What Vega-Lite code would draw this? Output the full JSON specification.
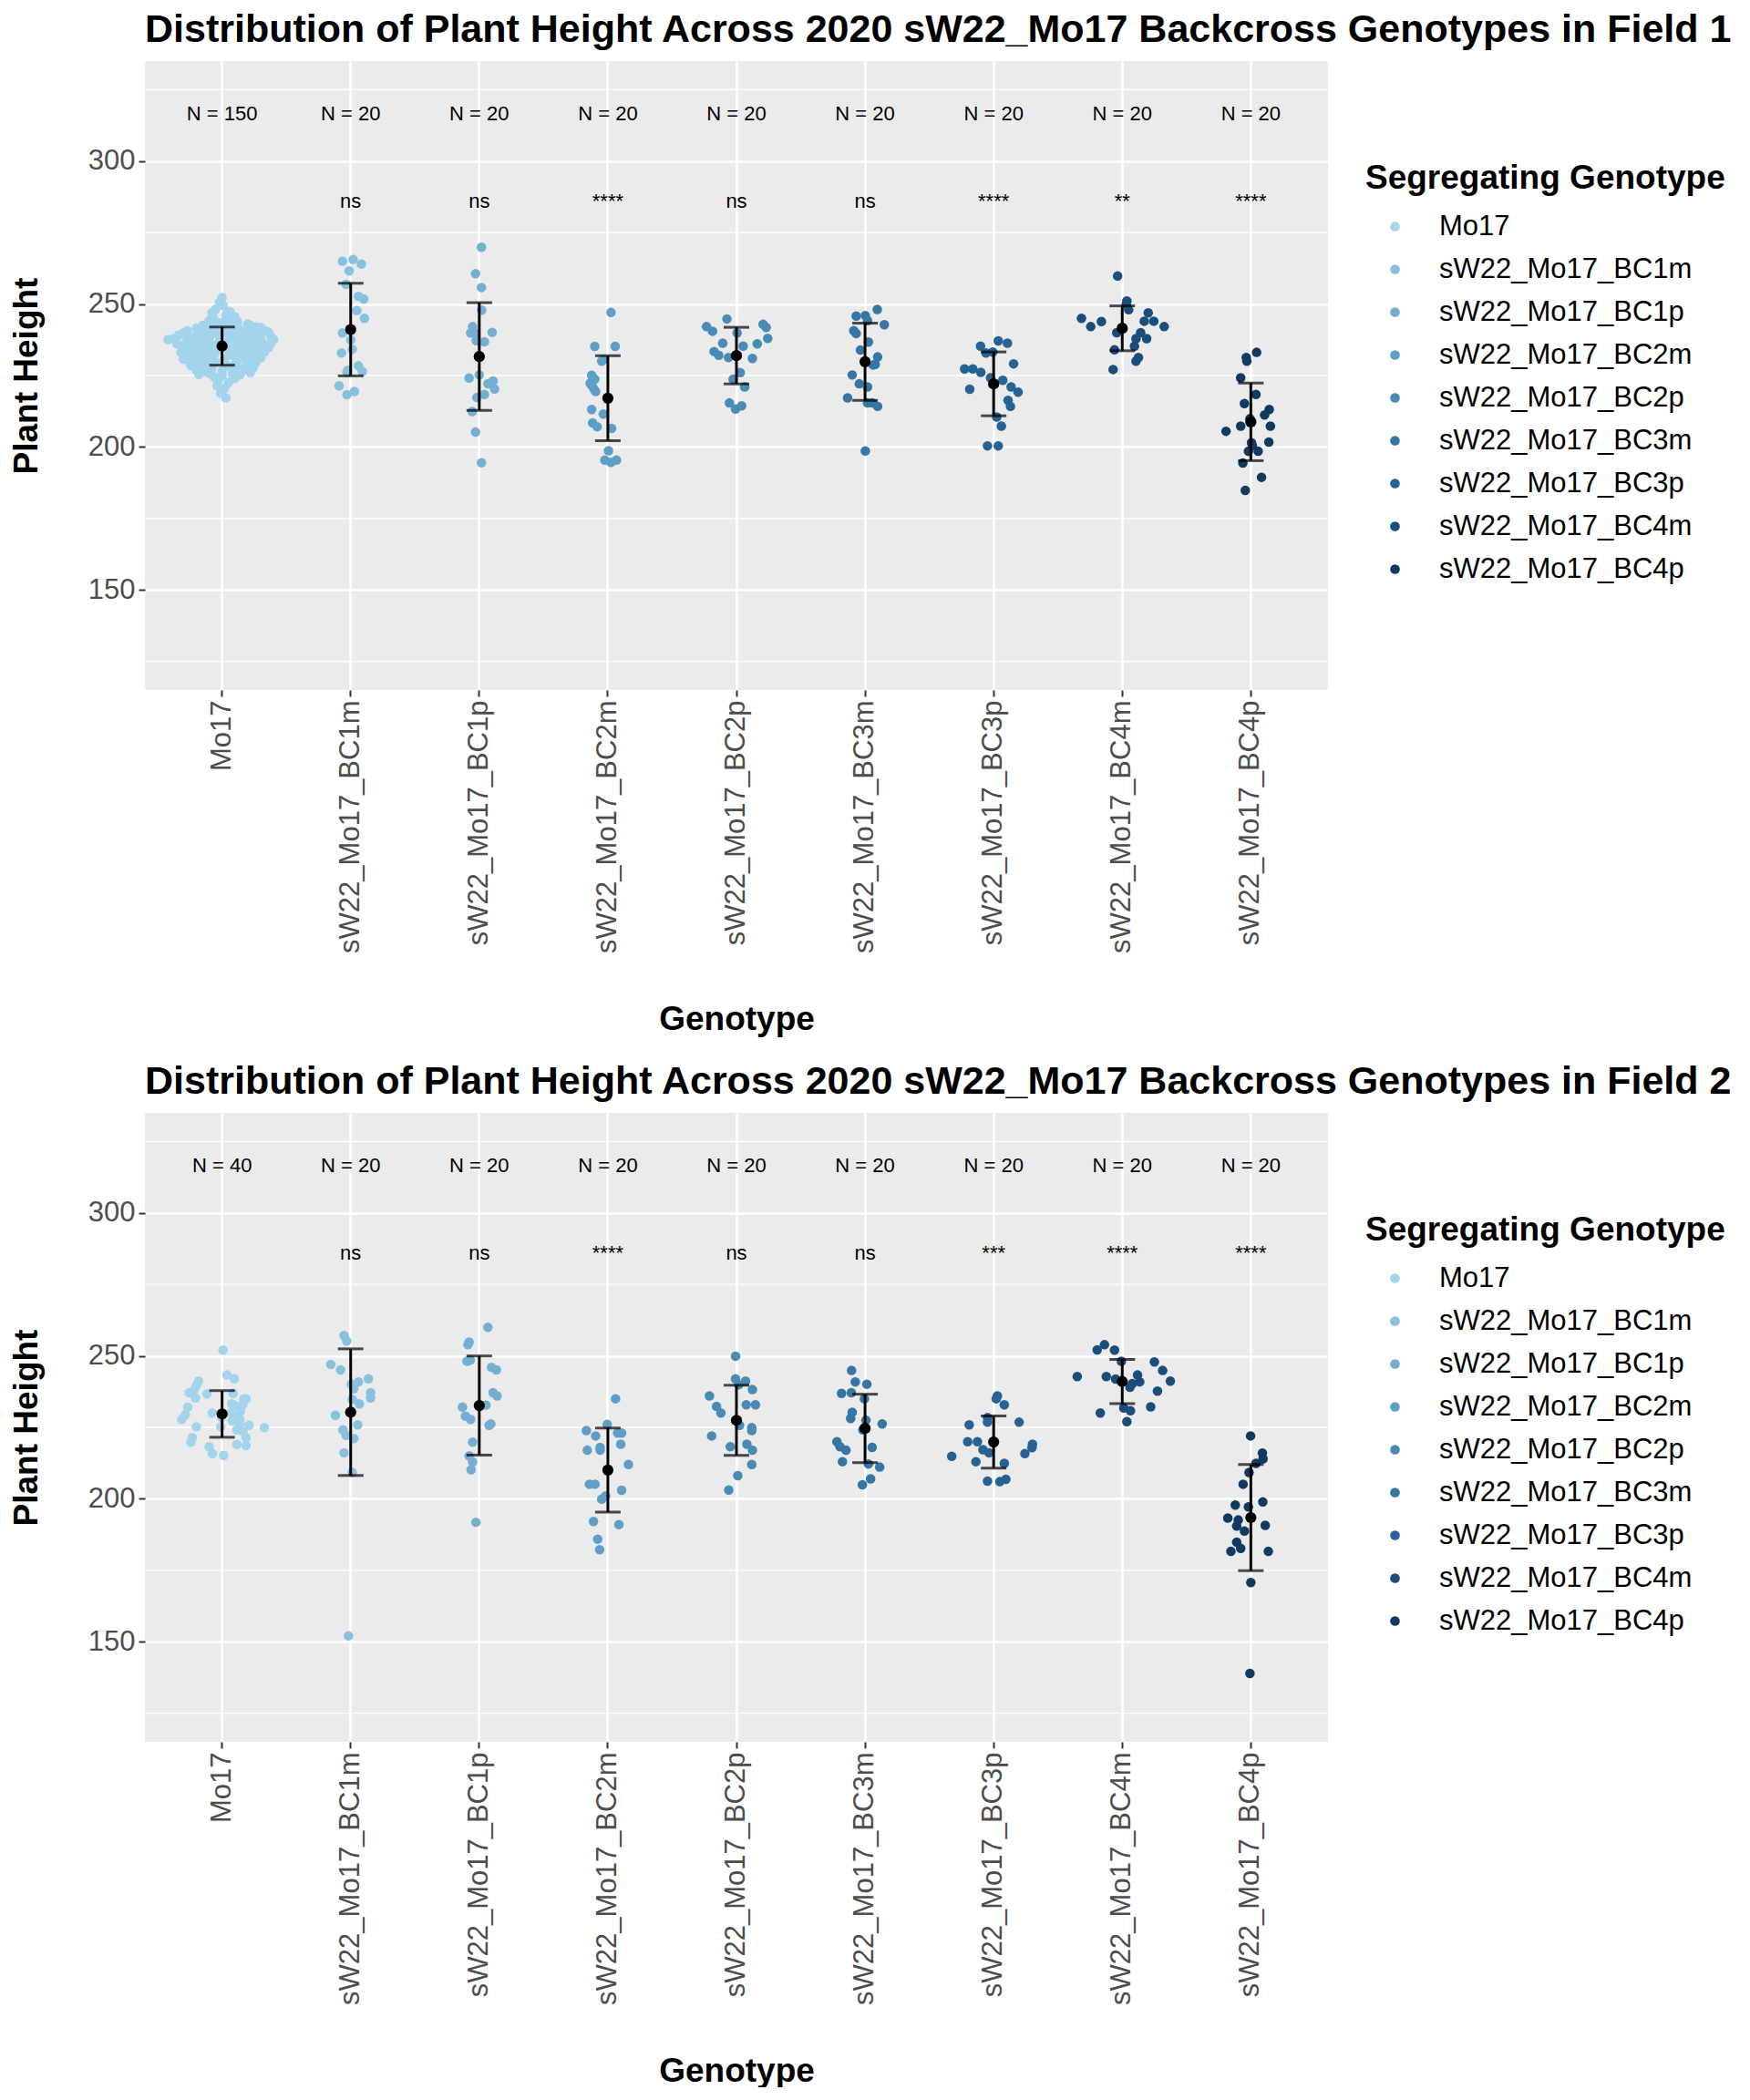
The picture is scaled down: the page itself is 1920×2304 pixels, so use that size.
{
  "$schema": "https://vega.github.io/schema/vega-lite/v6.json",
  "background": "white",
  "padding": {"left": 10, "top": 12, "right": 0, "bottom": 0},
  "config": {
    "font": "Liberation Sans",
    "view": {"fill": "#ebebeb", "stroke": null}
  },
  "spacing": 30,
  "datasets": {
    "field1": [
      {"genotype": "Mo17", "height": 252.3, "jitter": 0.0},
      {"genotype": "Mo17", "height": 250.7, "jitter": -0.02},
      {"genotype": "Mo17", "height": 249.4, "jitter": 0.01},
      {"genotype": "Mo17", "height": 248.2, "jitter": -0.05},
      {"genotype": "Mo17", "height": 247.3, "jitter": 0.06},
      {"genotype": "Mo17", "height": 247.0, "jitter": -0.08},
      {"genotype": "Mo17", "height": 246.2, "jitter": 0.03},
      {"genotype": "Mo17", "height": 245.5, "jitter": 0.1},
      {"genotype": "Mo17", "height": 245.5, "jitter": -0.07},
      {"genotype": "Mo17", "height": 244.9, "jitter": 0.03},
      {"genotype": "Mo17", "height": 244.2, "jitter": -0.1},
      {"genotype": "Mo17", "height": 243.8, "jitter": 0.12},
      {"genotype": "Mo17", "height": 243.4, "jitter": -0.09},
      {"genotype": "Mo17", "height": 243.0, "jitter": 0.2},
      {"genotype": "Mo17", "height": 242.8, "jitter": 0.21},
      {"genotype": "Mo17", "height": 242.5, "jitter": -0.15},
      {"genotype": "Mo17", "height": 242.3, "jitter": 0.02},
      {"genotype": "Mo17", "height": 242.0, "jitter": 0.26},
      {"genotype": "Mo17", "height": 241.8, "jitter": 0.3},
      {"genotype": "Mo17", "height": 241.5, "jitter": -0.2},
      {"genotype": "Mo17", "height": 241.2, "jitter": -0.18},
      {"genotype": "Mo17", "height": 241.0, "jitter": 0.1},
      {"genotype": "Mo17", "height": 240.8, "jitter": 0.33},
      {"genotype": "Mo17", "height": 240.7, "jitter": -0.27},
      {"genotype": "Mo17", "height": 240.5, "jitter": 0.15},
      {"genotype": "Mo17", "height": 240.3, "jitter": -0.05},
      {"genotype": "Mo17", "height": 240.2, "jitter": 0.36},
      {"genotype": "Mo17", "height": 240.0, "jitter": 0.22},
      {"genotype": "Mo17", "height": 239.8, "jitter": -0.3},
      {"genotype": "Mo17", "height": 239.5, "jitter": 0.05},
      {"genotype": "Mo17", "height": 239.3, "jitter": 0.28},
      {"genotype": "Mo17", "height": 239.1, "jitter": -0.34},
      {"genotype": "Mo17", "height": 239.0, "jitter": -0.12},
      {"genotype": "Mo17", "height": 238.8, "jitter": 0.18},
      {"genotype": "Mo17", "height": 238.6, "jitter": 0.38},
      {"genotype": "Mo17", "height": 238.4, "jitter": -0.22},
      {"genotype": "Mo17", "height": 238.2, "jitter": 0.08},
      {"genotype": "Mo17", "height": 238.0, "jitter": 0.3},
      {"genotype": "Mo17", "height": 237.9, "jitter": -0.38},
      {"genotype": "Mo17", "height": 237.6, "jitter": -0.42},
      {"genotype": "Mo17", "height": 237.5, "jitter": 0.4},
      {"genotype": "Mo17", "height": 237.3, "jitter": -0.15},
      {"genotype": "Mo17", "height": 237.0, "jitter": 0.12},
      {"genotype": "Mo17", "height": 236.9, "jitter": 0.24},
      {"genotype": "Mo17", "height": 236.7, "jitter": -0.28},
      {"genotype": "Mo17", "height": 236.5, "jitter": 0.0},
      {"genotype": "Mo17", "height": 236.3, "jitter": 0.38},
      {"genotype": "Mo17", "height": 236.1, "jitter": -0.35},
      {"genotype": "Mo17", "height": 236.0, "jitter": 0.33},
      {"genotype": "Mo17", "height": 235.8, "jitter": -0.08},
      {"genotype": "Mo17", "height": 235.6, "jitter": 0.2},
      {"genotype": "Mo17", "height": 235.4, "jitter": -0.2},
      {"genotype": "Mo17", "height": 235.2, "jitter": 0.28},
      {"genotype": "Mo17", "height": 235.0, "jitter": -0.3},
      {"genotype": "Mo17", "height": 234.9, "jitter": 0.1},
      {"genotype": "Mo17", "height": 234.7, "jitter": 0.36},
      {"genotype": "Mo17", "height": 234.5, "jitter": -0.12},
      {"genotype": "Mo17", "height": 234.3, "jitter": 0.25},
      {"genotype": "Mo17", "height": 234.1, "jitter": -0.25},
      {"genotype": "Mo17", "height": 234.0, "jitter": 0.05},
      {"genotype": "Mo17", "height": 233.8, "jitter": 0.32},
      {"genotype": "Mo17", "height": 233.6, "jitter": -0.18},
      {"genotype": "Mo17", "height": 233.4, "jitter": 0.15},
      {"genotype": "Mo17", "height": 233.3, "jitter": 0.33},
      {"genotype": "Mo17", "height": 233.1, "jitter": -0.32},
      {"genotype": "Mo17", "height": 233.0, "jitter": -0.05},
      {"genotype": "Mo17", "height": 232.8, "jitter": 0.22},
      {"genotype": "Mo17", "height": 232.6, "jitter": 0.3},
      {"genotype": "Mo17", "height": 232.4, "jitter": -0.22},
      {"genotype": "Mo17", "height": 232.2, "jitter": 0.08},
      {"genotype": "Mo17", "height": 232.0, "jitter": -0.28},
      {"genotype": "Mo17", "height": 231.8, "jitter": 0.28},
      {"genotype": "Mo17", "height": 231.6, "jitter": -0.1},
      {"genotype": "Mo17", "height": 231.4, "jitter": 0.18},
      {"genotype": "Mo17", "height": 231.2, "jitter": 0.3},
      {"genotype": "Mo17", "height": 231.0, "jitter": -0.2},
      {"genotype": "Mo17", "height": 230.9, "jitter": 0.02},
      {"genotype": "Mo17", "height": 230.7, "jitter": -0.3},
      {"genotype": "Mo17", "height": 230.5, "jitter": 0.25},
      {"genotype": "Mo17", "height": 230.3, "jitter": -0.15},
      {"genotype": "Mo17", "height": 230.2, "jitter": 0.12},
      {"genotype": "Mo17", "height": 230.0, "jitter": -0.26},
      {"genotype": "Mo17", "height": 229.8, "jitter": 0.2},
      {"genotype": "Mo17", "height": 229.6, "jitter": -0.05},
      {"genotype": "Mo17", "height": 229.4, "jitter": 0.26},
      {"genotype": "Mo17", "height": 229.2, "jitter": -0.2},
      {"genotype": "Mo17", "height": 229.0, "jitter": 0.1},
      {"genotype": "Mo17", "height": 228.8, "jitter": -0.12},
      {"genotype": "Mo17", "height": 228.6, "jitter": 0.22},
      {"genotype": "Mo17", "height": 228.4, "jitter": -0.24},
      {"genotype": "Mo17", "height": 228.2, "jitter": 0.05},
      {"genotype": "Mo17", "height": 228.0, "jitter": 0.18},
      {"genotype": "Mo17", "height": 227.8, "jitter": -0.16},
      {"genotype": "Mo17", "height": 227.6, "jitter": 0.24},
      {"genotype": "Mo17", "height": 227.4, "jitter": -0.08},
      {"genotype": "Mo17", "height": 227.2, "jitter": 0.12},
      {"genotype": "Mo17", "height": 227.0, "jitter": -0.2},
      {"genotype": "Mo17", "height": 226.8, "jitter": 0.2},
      {"genotype": "Mo17", "height": 226.6, "jitter": 0.0},
      {"genotype": "Mo17", "height": 226.4, "jitter": -0.14},
      {"genotype": "Mo17", "height": 226.2, "jitter": 0.15},
      {"genotype": "Mo17", "height": 226.0, "jitter": 0.22},
      {"genotype": "Mo17", "height": 225.8, "jitter": -0.1},
      {"genotype": "Mo17", "height": 225.6, "jitter": 0.08},
      {"genotype": "Mo17", "height": 225.4, "jitter": -0.18},
      {"genotype": "Mo17", "height": 225.2, "jitter": 0.14},
      {"genotype": "Mo17", "height": 225.0, "jitter": 0.0},
      {"genotype": "Mo17", "height": 224.5, "jitter": -0.06},
      {"genotype": "Mo17", "height": 224.0, "jitter": 0.1},
      {"genotype": "Mo17", "height": 223.2, "jitter": -0.03},
      {"genotype": "Mo17", "height": 222.5, "jitter": 0.05},
      {"genotype": "Mo17", "height": 221.5, "jitter": -0.04},
      {"genotype": "Mo17", "height": 220.5, "jitter": 0.02},
      {"genotype": "Mo17", "height": 218.8, "jitter": -0.01},
      {"genotype": "Mo17", "height": 217.2, "jitter": 0.03},
      {"genotype": "Mo17", "height": 244.0, "jitter": 0.05},
      {"genotype": "Mo17", "height": 243.5, "jitter": -0.03},
      {"genotype": "Mo17", "height": 243.0, "jitter": 0.08},
      {"genotype": "Mo17", "height": 242.6, "jitter": -0.06},
      {"genotype": "Mo17", "height": 242.0, "jitter": 0.12},
      {"genotype": "Mo17", "height": 241.6, "jitter": -0.1},
      {"genotype": "Mo17", "height": 241.2, "jitter": 0.04},
      {"genotype": "Mo17", "height": 240.8, "jitter": -0.14},
      {"genotype": "Mo17", "height": 240.4, "jitter": 0.16},
      {"genotype": "Mo17", "height": 240.0, "jitter": 0.0},
      {"genotype": "Mo17", "height": 239.6, "jitter": -0.08},
      {"genotype": "Mo17", "height": 239.2, "jitter": 0.1},
      {"genotype": "Mo17", "height": 238.8, "jitter": -0.18},
      {"genotype": "Mo17", "height": 238.4, "jitter": 0.14},
      {"genotype": "Mo17", "height": 238.0, "jitter": -0.02},
      {"genotype": "Mo17", "height": 237.6, "jitter": 0.06},
      {"genotype": "Mo17", "height": 237.2, "jitter": -0.1},
      {"genotype": "Mo17", "height": 236.8, "jitter": 0.18},
      {"genotype": "Mo17", "height": 236.4, "jitter": -0.16},
      {"genotype": "Mo17", "height": 236.0, "jitter": 0.1},
      {"genotype": "Mo17", "height": 235.6, "jitter": -0.04},
      {"genotype": "Mo17", "height": 235.2, "jitter": 0.16},
      {"genotype": "Mo17", "height": 234.8, "jitter": -0.18},
      {"genotype": "Mo17", "height": 234.4, "jitter": 0.04},
      {"genotype": "Mo17", "height": 234.0, "jitter": -0.1},
      {"genotype": "Mo17", "height": 233.6, "jitter": 0.2},
      {"genotype": "Mo17", "height": 233.2, "jitter": -0.14},
      {"genotype": "Mo17", "height": 232.8, "jitter": 0.1},
      {"genotype": "Mo17", "height": 232.4, "jitter": -0.06},
      {"genotype": "Mo17", "height": 232.0, "jitter": 0.16},
      {"genotype": "Mo17", "height": 237.0, "jitter": 0.26},
      {"genotype": "Mo17", "height": 238.6, "jitter": -0.26},
      {"genotype": "Mo17", "height": 239.8, "jitter": 0.24},
      {"genotype": "Mo17", "height": 241.4, "jitter": 0.22},
      {"genotype": "Mo17", "height": 236.2, "jitter": -0.24},
      {"genotype": "sW22_Mo17_BC1m", "height": 265.0, "jitter": -0.064},
      {"genotype": "sW22_Mo17_BC1m", "height": 265.6, "jitter": 0.019},
      {"genotype": "sW22_Mo17_BC1m", "height": 264.0, "jitter": 0.083},
      {"genotype": "sW22_Mo17_BC1m", "height": 261.6, "jitter": -0.012},
      {"genotype": "sW22_Mo17_BC1m", "height": 256.9, "jitter": -0.036},
      {"genotype": "sW22_Mo17_BC1m", "height": 252.7, "jitter": 0.06},
      {"genotype": "sW22_Mo17_BC1m", "height": 251.8, "jitter": 0.102},
      {"genotype": "sW22_Mo17_BC1m", "height": 247.7, "jitter": 0.048},
      {"genotype": "sW22_Mo17_BC1m", "height": 245.0, "jitter": 0.107},
      {"genotype": "sW22_Mo17_BC1m", "height": 239.9, "jitter": -0.064},
      {"genotype": "sW22_Mo17_BC1m", "height": 237.4, "jitter": 0.0},
      {"genotype": "sW22_Mo17_BC1m", "height": 234.2, "jitter": 0.012},
      {"genotype": "sW22_Mo17_BC1m", "height": 232.9, "jitter": -0.071},
      {"genotype": "sW22_Mo17_BC1m", "height": 228.4, "jitter": 0.06},
      {"genotype": "sW22_Mo17_BC1m", "height": 226.4, "jitter": 0.09},
      {"genotype": "sW22_Mo17_BC1m", "height": 226.2, "jitter": -0.029},
      {"genotype": "sW22_Mo17_BC1m", "height": 221.4, "jitter": -0.09},
      {"genotype": "sW22_Mo17_BC1m", "height": 218.3, "jitter": -0.029},
      {"genotype": "sW22_Mo17_BC1m", "height": 219.4, "jitter": 0.029},
      {"genotype": "sW22_Mo17_BC1m", "height": 226.8, "jitter": -0.024},
      {"genotype": "sW22_Mo17_BC1p", "height": 269.9, "jitter": 0.017},
      {"genotype": "sW22_Mo17_BC1p", "height": 260.6, "jitter": -0.029},
      {"genotype": "sW22_Mo17_BC1p", "height": 255.8, "jitter": 0.017},
      {"genotype": "sW22_Mo17_BC1p", "height": 247.9, "jitter": 0.019},
      {"genotype": "sW22_Mo17_BC1p", "height": 242.1, "jitter": -0.052},
      {"genotype": "sW22_Mo17_BC1p", "height": 239.9, "jitter": -0.067},
      {"genotype": "sW22_Mo17_BC1p", "height": 240.1, "jitter": 0.1},
      {"genotype": "sW22_Mo17_BC1p", "height": 237.2, "jitter": -0.024},
      {"genotype": "sW22_Mo17_BC1p", "height": 236.8, "jitter": 0.04},
      {"genotype": "sW22_Mo17_BC1p", "height": 224.1, "jitter": -0.079},
      {"genotype": "sW22_Mo17_BC1p", "height": 225.2, "jitter": 0.0},
      {"genotype": "sW22_Mo17_BC1p", "height": 223.1, "jitter": 0.107},
      {"genotype": "sW22_Mo17_BC1p", "height": 222.1, "jitter": 0.067},
      {"genotype": "sW22_Mo17_BC1p", "height": 220.3, "jitter": 0.119},
      {"genotype": "sW22_Mo17_BC1p", "height": 218.4, "jitter": 0.04},
      {"genotype": "sW22_Mo17_BC1p", "height": 217.3, "jitter": -0.019},
      {"genotype": "sW22_Mo17_BC1p", "height": 212.4, "jitter": -0.055},
      {"genotype": "sW22_Mo17_BC1p", "height": 205.2, "jitter": -0.029},
      {"genotype": "sW22_Mo17_BC1p", "height": 194.5, "jitter": 0.017},
      {"genotype": "sW22_Mo17_BC1p", "height": 240.0, "jitter": -0.036},
      {"genotype": "sW22_Mo17_BC2m", "height": 247.1, "jitter": 0.024},
      {"genotype": "sW22_Mo17_BC2m", "height": 235.2, "jitter": -0.102},
      {"genotype": "sW22_Mo17_BC2m", "height": 235.2, "jitter": 0.057},
      {"genotype": "sW22_Mo17_BC2m", "height": 230.0, "jitter": -0.048},
      {"genotype": "sW22_Mo17_BC2m", "height": 230.5, "jitter": -0.036},
      {"genotype": "sW22_Mo17_BC2m", "height": 225.1, "jitter": -0.126},
      {"genotype": "sW22_Mo17_BC2m", "height": 223.7, "jitter": -0.102},
      {"genotype": "sW22_Mo17_BC2m", "height": 222.3, "jitter": -0.138},
      {"genotype": "sW22_Mo17_BC2m", "height": 220.2, "jitter": -0.107},
      {"genotype": "sW22_Mo17_BC2m", "height": 213.1, "jitter": -0.126},
      {"genotype": "sW22_Mo17_BC2m", "height": 211.5, "jitter": -0.036},
      {"genotype": "sW22_Mo17_BC2m", "height": 208.4, "jitter": -0.119},
      {"genotype": "sW22_Mo17_BC2m", "height": 207.1, "jitter": -0.083},
      {"genotype": "sW22_Mo17_BC2m", "height": 206.5, "jitter": 0.029},
      {"genotype": "sW22_Mo17_BC2m", "height": 198.7, "jitter": 0.005},
      {"genotype": "sW22_Mo17_BC2m", "height": 195.4, "jitter": -0.024},
      {"genotype": "sW22_Mo17_BC2m", "height": 194.6, "jitter": 0.024},
      {"genotype": "sW22_Mo17_BC2m", "height": 195.4, "jitter": 0.067},
      {"genotype": "sW22_Mo17_BC2m", "height": 221.5, "jitter": -0.124},
      {"genotype": "sW22_Mo17_BC2m", "height": 219.4, "jitter": -0.095},
      {"genotype": "sW22_Mo17_BC2p", "height": 244.8, "jitter": -0.074},
      {"genotype": "sW22_Mo17_BC2p", "height": 242.1, "jitter": -0.233},
      {"genotype": "sW22_Mo17_BC2p", "height": 240.5, "jitter": -0.186},
      {"genotype": "sW22_Mo17_BC2p", "height": 239.9, "jitter": 0.005},
      {"genotype": "sW22_Mo17_BC2p", "height": 242.9, "jitter": 0.207},
      {"genotype": "sW22_Mo17_BC2p", "height": 241.8, "jitter": 0.231},
      {"genotype": "sW22_Mo17_BC2p", "height": 238.0, "jitter": 0.243},
      {"genotype": "sW22_Mo17_BC2p", "height": 236.3, "jitter": -0.107},
      {"genotype": "sW22_Mo17_BC2p", "height": 235.3, "jitter": 0.052},
      {"genotype": "sW22_Mo17_BC2p", "height": 236.1, "jitter": 0.162},
      {"genotype": "sW22_Mo17_BC2p", "height": 233.4, "jitter": -0.174},
      {"genotype": "sW22_Mo17_BC2p", "height": 232.1, "jitter": -0.138},
      {"genotype": "sW22_Mo17_BC2p", "height": 231.3, "jitter": -0.062},
      {"genotype": "sW22_Mo17_BC2p", "height": 231.0, "jitter": 0.124},
      {"genotype": "sW22_Mo17_BC2p", "height": 226.0, "jitter": 0.029},
      {"genotype": "sW22_Mo17_BC2p", "height": 223.7, "jitter": -0.026},
      {"genotype": "sW22_Mo17_BC2p", "height": 221.0, "jitter": 0.064},
      {"genotype": "sW22_Mo17_BC2p", "height": 215.4, "jitter": -0.055},
      {"genotype": "sW22_Mo17_BC2p", "height": 214.4, "jitter": 0.04},
      {"genotype": "sW22_Mo17_BC2p", "height": 213.3, "jitter": -0.007},
      {"genotype": "sW22_Mo17_BC3m", "height": 248.1, "jitter": 0.095},
      {"genotype": "sW22_Mo17_BC3m", "height": 245.8, "jitter": -0.069},
      {"genotype": "sW22_Mo17_BC3m", "height": 246.0, "jitter": 0.002},
      {"genotype": "sW22_Mo17_BC3m", "height": 244.2, "jitter": 0.019},
      {"genotype": "sW22_Mo17_BC3m", "height": 242.8, "jitter": 0.15},
      {"genotype": "sW22_Mo17_BC3m", "height": 240.7, "jitter": -0.088},
      {"genotype": "sW22_Mo17_BC3m", "height": 239.7, "jitter": -0.069},
      {"genotype": "sW22_Mo17_BC3m", "height": 236.7, "jitter": 0.026},
      {"genotype": "sW22_Mo17_BC3m", "height": 233.9, "jitter": -0.036},
      {"genotype": "sW22_Mo17_BC3m", "height": 231.5, "jitter": 0.098},
      {"genotype": "sW22_Mo17_BC3m", "height": 228.9, "jitter": 0.079},
      {"genotype": "sW22_Mo17_BC3m", "height": 228.7, "jitter": 0.062},
      {"genotype": "sW22_Mo17_BC3m", "height": 225.2, "jitter": -0.1},
      {"genotype": "sW22_Mo17_BC3m", "height": 222.1, "jitter": -0.045},
      {"genotype": "sW22_Mo17_BC3m", "height": 221.0, "jitter": 0.019},
      {"genotype": "sW22_Mo17_BC3m", "height": 217.2, "jitter": -0.136},
      {"genotype": "sW22_Mo17_BC3m", "height": 215.4, "jitter": 0.019},
      {"genotype": "sW22_Mo17_BC3m", "height": 214.2, "jitter": 0.098},
      {"genotype": "sW22_Mo17_BC3m", "height": 215.4, "jitter": 0.055},
      {"genotype": "sW22_Mo17_BC3m", "height": 198.6, "jitter": 0.002},
      {"genotype": "sW22_Mo17_BC3p", "height": 237.1, "jitter": 0.036},
      {"genotype": "sW22_Mo17_BC3p", "height": 236.3, "jitter": 0.107},
      {"genotype": "sW22_Mo17_BC3p", "height": 235.3, "jitter": -0.102},
      {"genotype": "sW22_Mo17_BC3p", "height": 232.9, "jitter": -0.06},
      {"genotype": "sW22_Mo17_BC3p", "height": 233.2, "jitter": -0.007},
      {"genotype": "sW22_Mo17_BC3p", "height": 229.1, "jitter": 0.155},
      {"genotype": "sW22_Mo17_BC3p", "height": 227.3, "jitter": -0.226},
      {"genotype": "sW22_Mo17_BC3p", "height": 227.3, "jitter": -0.162},
      {"genotype": "sW22_Mo17_BC3p", "height": 226.1, "jitter": -0.1},
      {"genotype": "sW22_Mo17_BC3p", "height": 224.2, "jitter": -0.024},
      {"genotype": "sW22_Mo17_BC3p", "height": 223.3, "jitter": 0.071},
      {"genotype": "sW22_Mo17_BC3p", "height": 221.0, "jitter": 0.136},
      {"genotype": "sW22_Mo17_BC3p", "height": 219.2, "jitter": 0.19},
      {"genotype": "sW22_Mo17_BC3p", "height": 220.2, "jitter": -0.186},
      {"genotype": "sW22_Mo17_BC3p", "height": 216.3, "jitter": 0.112},
      {"genotype": "sW22_Mo17_BC3p", "height": 214.2, "jitter": 0.131},
      {"genotype": "sW22_Mo17_BC3p", "height": 210.5, "jitter": 0.024},
      {"genotype": "sW22_Mo17_BC3p", "height": 207.3, "jitter": 0.06},
      {"genotype": "sW22_Mo17_BC3p", "height": 200.4, "jitter": -0.048},
      {"genotype": "sW22_Mo17_BC3p", "height": 200.4, "jitter": 0.036},
      {"genotype": "sW22_Mo17_BC4m", "height": 259.8, "jitter": -0.036},
      {"genotype": "sW22_Mo17_BC4m", "height": 251.1, "jitter": 0.036},
      {"genotype": "sW22_Mo17_BC4m", "height": 250.0, "jitter": 0.031},
      {"genotype": "sW22_Mo17_BC4m", "height": 245.0, "jitter": -0.317},
      {"genotype": "sW22_Mo17_BC4m", "height": 243.9, "jitter": -0.162},
      {"genotype": "sW22_Mo17_BC4m", "height": 242.1, "jitter": -0.245},
      {"genotype": "sW22_Mo17_BC4m", "height": 246.9, "jitter": 0.202},
      {"genotype": "sW22_Mo17_BC4m", "height": 244.0, "jitter": 0.171},
      {"genotype": "sW22_Mo17_BC4m", "height": 244.0, "jitter": 0.245},
      {"genotype": "sW22_Mo17_BC4m", "height": 242.1, "jitter": 0.326},
      {"genotype": "sW22_Mo17_BC4m", "height": 240.0, "jitter": -0.043},
      {"genotype": "sW22_Mo17_BC4m", "height": 240.0, "jitter": 0.143},
      {"genotype": "sW22_Mo17_BC4m", "height": 237.9, "jitter": 0.107},
      {"genotype": "sW22_Mo17_BC4m", "height": 237.9, "jitter": 0.19},
      {"genotype": "sW22_Mo17_BC4m", "height": 235.3, "jitter": 0.095},
      {"genotype": "sW22_Mo17_BC4m", "height": 234.0, "jitter": -0.06},
      {"genotype": "sW22_Mo17_BC4m", "height": 231.3, "jitter": 0.126},
      {"genotype": "sW22_Mo17_BC4m", "height": 230.0, "jitter": 0.107},
      {"genotype": "sW22_Mo17_BC4m", "height": 227.1, "jitter": -0.071},
      {"genotype": "sW22_Mo17_BC4m", "height": 248.0, "jitter": 0.05},
      {"genotype": "sW22_Mo17_BC4p", "height": 233.1, "jitter": 0.045},
      {"genotype": "sW22_Mo17_BC4p", "height": 231.3, "jitter": -0.036},
      {"genotype": "sW22_Mo17_BC4p", "height": 230.0, "jitter": -0.031},
      {"genotype": "sW22_Mo17_BC4p", "height": 224.2, "jitter": -0.079},
      {"genotype": "sW22_Mo17_BC4p", "height": 218.4, "jitter": 0.04},
      {"genotype": "sW22_Mo17_BC4p", "height": 215.2, "jitter": -0.05},
      {"genotype": "sW22_Mo17_BC4p", "height": 213.1, "jitter": 0.143},
      {"genotype": "sW22_Mo17_BC4p", "height": 211.2, "jitter": 0.107},
      {"genotype": "sW22_Mo17_BC4p", "height": 207.3, "jitter": 0.152},
      {"genotype": "sW22_Mo17_BC4p", "height": 207.3, "jitter": -0.079},
      {"genotype": "sW22_Mo17_BC4p", "height": 205.5, "jitter": -0.193},
      {"genotype": "sW22_Mo17_BC4p", "height": 201.5, "jitter": 0.005},
      {"genotype": "sW22_Mo17_BC4p", "height": 201.7, "jitter": 0.14},
      {"genotype": "sW22_Mo17_BC4p", "height": 198.5, "jitter": -0.019},
      {"genotype": "sW22_Mo17_BC4p", "height": 198.5, "jitter": 0.057},
      {"genotype": "sW22_Mo17_BC4p", "height": 194.4, "jitter": -0.062},
      {"genotype": "sW22_Mo17_BC4p", "height": 189.4, "jitter": 0.083},
      {"genotype": "sW22_Mo17_BC4p", "height": 184.8, "jitter": -0.043},
      {"genotype": "sW22_Mo17_BC4p", "height": 200.5, "jitter": 0.012},
      {"genotype": "sW22_Mo17_BC4p", "height": 209.9, "jitter": -0.007}
    ],
    "field2": [
      {"genotype": "Mo17", "height": 252.0, "jitter": 0.007},
      {"genotype": "Mo17", "height": 243.3, "jitter": 0.038},
      {"genotype": "Mo17", "height": 242.0, "jitter": 0.095},
      {"genotype": "Mo17", "height": 241.2, "jitter": -0.183},
      {"genotype": "Mo17", "height": 239.6, "jitter": -0.2},
      {"genotype": "Mo17", "height": 237.1, "jitter": -0.255},
      {"genotype": "Mo17", "height": 236.7, "jitter": -0.117},
      {"genotype": "Mo17", "height": 236.9, "jitter": 0.086},
      {"genotype": "Mo17", "height": 235.3, "jitter": -0.207},
      {"genotype": "Mo17", "height": 235.0, "jitter": 0.169},
      {"genotype": "Mo17", "height": 233.2, "jitter": 0.074},
      {"genotype": "Mo17", "height": 232.1, "jitter": -0.267},
      {"genotype": "Mo17", "height": 230.7, "jitter": 0.143},
      {"genotype": "Mo17", "height": 230.0, "jitter": -0.076},
      {"genotype": "Mo17", "height": 229.4, "jitter": -0.286},
      {"genotype": "Mo17", "height": 227.8, "jitter": -0.314},
      {"genotype": "Mo17", "height": 228.9, "jitter": 0.09},
      {"genotype": "Mo17", "height": 227.8, "jitter": 0.138},
      {"genotype": "Mo17", "height": 225.7, "jitter": 0.21},
      {"genotype": "Mo17", "height": 225.2, "jitter": -0.2},
      {"genotype": "Mo17", "height": 225.2, "jitter": -0.01},
      {"genotype": "Mo17", "height": 224.1, "jitter": 0.114},
      {"genotype": "Mo17", "height": 224.9, "jitter": 0.329},
      {"genotype": "Mo17", "height": 223.6, "jitter": 0.162},
      {"genotype": "Mo17", "height": 221.4, "jitter": 0.186},
      {"genotype": "Mo17", "height": 221.4, "jitter": -0.231},
      {"genotype": "Mo17", "height": 219.8, "jitter": -0.243},
      {"genotype": "Mo17", "height": 219.0, "jitter": 0.114},
      {"genotype": "Mo17", "height": 218.6, "jitter": 0.186},
      {"genotype": "Mo17", "height": 218.2, "jitter": -0.1},
      {"genotype": "Mo17", "height": 215.8, "jitter": -0.076},
      {"genotype": "Mo17", "height": 215.2, "jitter": 0.012},
      {"genotype": "Mo17", "height": 226.2, "jitter": 0.138},
      {"genotype": "Mo17", "height": 230.0, "jitter": 0.067},
      {"genotype": "Mo17", "height": 233.0, "jitter": 0.162},
      {"genotype": "Mo17", "height": 238.0, "jitter": -0.219},
      {"genotype": "Mo17", "height": 227.3, "jitter": 0.079},
      {"genotype": "Mo17", "height": 235.0, "jitter": 0.186},
      {"genotype": "Mo17", "height": 228.4, "jitter": -0.005},
      {"genotype": "Mo17", "height": 232.6, "jitter": 0.102},
      {"genotype": "sW22_Mo17_BC1m", "height": 257.1, "jitter": -0.052},
      {"genotype": "sW22_Mo17_BC1m", "height": 255.2, "jitter": -0.031},
      {"genotype": "sW22_Mo17_BC1m", "height": 247.0, "jitter": -0.155},
      {"genotype": "sW22_Mo17_BC1m", "height": 245.1, "jitter": -0.079},
      {"genotype": "sW22_Mo17_BC1m", "height": 242.0, "jitter": 0.138},
      {"genotype": "sW22_Mo17_BC1m", "height": 240.9, "jitter": 0.06},
      {"genotype": "sW22_Mo17_BC1m", "height": 240.1, "jitter": 0.005},
      {"genotype": "sW22_Mo17_BC1m", "height": 238.5, "jitter": 0.024},
      {"genotype": "sW22_Mo17_BC1m", "height": 237.1, "jitter": 0.155},
      {"genotype": "sW22_Mo17_BC1m", "height": 235.3, "jitter": 0.155},
      {"genotype": "sW22_Mo17_BC1m", "height": 234.8, "jitter": 0.012},
      {"genotype": "sW22_Mo17_BC1m", "height": 233.2, "jitter": 0.067},
      {"genotype": "sW22_Mo17_BC1m", "height": 229.2, "jitter": -0.119},
      {"genotype": "sW22_Mo17_BC1m", "height": 225.9, "jitter": 0.055},
      {"genotype": "sW22_Mo17_BC1m", "height": 224.1, "jitter": -0.06},
      {"genotype": "sW22_Mo17_BC1m", "height": 222.2, "jitter": -0.036},
      {"genotype": "sW22_Mo17_BC1m", "height": 221.1, "jitter": 0.024},
      {"genotype": "sW22_Mo17_BC1m", "height": 216.1, "jitter": -0.052},
      {"genotype": "sW22_Mo17_BC1m", "height": 209.2, "jitter": 0.012},
      {"genotype": "sW22_Mo17_BC1m", "height": 152.1, "jitter": -0.017},
      {"genotype": "sW22_Mo17_BC1p", "height": 260.0, "jitter": 0.067},
      {"genotype": "sW22_Mo17_BC1p", "height": 254.8, "jitter": -0.079},
      {"genotype": "sW22_Mo17_BC1p", "height": 253.9, "jitter": -0.088},
      {"genotype": "sW22_Mo17_BC1p", "height": 248.1, "jitter": -0.095},
      {"genotype": "sW22_Mo17_BC1p", "height": 246.0, "jitter": 0.095},
      {"genotype": "sW22_Mo17_BC1p", "height": 245.1, "jitter": 0.133},
      {"genotype": "sW22_Mo17_BC1p", "height": 237.1, "jitter": 0.107},
      {"genotype": "sW22_Mo17_BC1p", "height": 236.0, "jitter": 0.138},
      {"genotype": "sW22_Mo17_BC1p", "height": 232.1, "jitter": -0.131},
      {"genotype": "sW22_Mo17_BC1p", "height": 232.8, "jitter": 0.052},
      {"genotype": "sW22_Mo17_BC1p", "height": 228.9, "jitter": -0.107},
      {"genotype": "sW22_Mo17_BC1p", "height": 227.8, "jitter": -0.067},
      {"genotype": "sW22_Mo17_BC1p", "height": 225.7, "jitter": 0.076},
      {"genotype": "sW22_Mo17_BC1p", "height": 226.2, "jitter": 0.09},
      {"genotype": "sW22_Mo17_BC1p", "height": 219.8, "jitter": -0.052},
      {"genotype": "sW22_Mo17_BC1p", "height": 215.0, "jitter": -0.079},
      {"genotype": "sW22_Mo17_BC1p", "height": 212.9, "jitter": -0.052},
      {"genotype": "sW22_Mo17_BC1p", "height": 210.2, "jitter": -0.064},
      {"genotype": "sW22_Mo17_BC1p", "height": 191.8, "jitter": -0.026},
      {"genotype": "sW22_Mo17_BC1p", "height": 248.5, "jitter": -0.07},
      {"genotype": "sW22_Mo17_BC2m", "height": 235.0, "jitter": 0.06},
      {"genotype": "sW22_Mo17_BC2m", "height": 226.0, "jitter": -0.005},
      {"genotype": "sW22_Mo17_BC2m", "height": 223.9, "jitter": -0.167},
      {"genotype": "sW22_Mo17_BC2m", "height": 222.0, "jitter": -0.095},
      {"genotype": "sW22_Mo17_BC2m", "height": 223.0, "jitter": 0.076},
      {"genotype": "sW22_Mo17_BC2m", "height": 223.0, "jitter": 0.107},
      {"genotype": "sW22_Mo17_BC2m", "height": 217.0, "jitter": -0.16},
      {"genotype": "sW22_Mo17_BC2m", "height": 218.0, "jitter": -0.06},
      {"genotype": "sW22_Mo17_BC2m", "height": 217.0, "jitter": -0.06},
      {"genotype": "sW22_Mo17_BC2m", "height": 219.1, "jitter": 0.1},
      {"genotype": "sW22_Mo17_BC2m", "height": 212.0, "jitter": 0.16},
      {"genotype": "sW22_Mo17_BC2m", "height": 205.1, "jitter": -0.143},
      {"genotype": "sW22_Mo17_BC2m", "height": 205.1, "jitter": -0.1},
      {"genotype": "sW22_Mo17_BC2m", "height": 203.0, "jitter": 0.107},
      {"genotype": "sW22_Mo17_BC2m", "height": 201.0, "jitter": -0.017},
      {"genotype": "sW22_Mo17_BC2m", "height": 199.9, "jitter": -0.048},
      {"genotype": "sW22_Mo17_BC2m", "height": 192.1, "jitter": -0.112},
      {"genotype": "sW22_Mo17_BC2m", "height": 191.0, "jitter": 0.086},
      {"genotype": "sW22_Mo17_BC2m", "height": 185.9, "jitter": -0.079},
      {"genotype": "sW22_Mo17_BC2m", "height": 182.2, "jitter": -0.064},
      {"genotype": "sW22_Mo17_BC2p", "height": 249.9, "jitter": -0.007},
      {"genotype": "sW22_Mo17_BC2p", "height": 242.0, "jitter": -0.007},
      {"genotype": "sW22_Mo17_BC2p", "height": 241.2, "jitter": 0.071},
      {"genotype": "sW22_Mo17_BC2p", "height": 239.9, "jitter": 0.017},
      {"genotype": "sW22_Mo17_BC2p", "height": 238.2, "jitter": 0.124},
      {"genotype": "sW22_Mo17_BC2p", "height": 236.0, "jitter": -0.21},
      {"genotype": "sW22_Mo17_BC2p", "height": 232.3, "jitter": -0.155},
      {"genotype": "sW22_Mo17_BC2p", "height": 230.0, "jitter": -0.121},
      {"genotype": "sW22_Mo17_BC2p", "height": 232.9, "jitter": 0.076},
      {"genotype": "sW22_Mo17_BC2p", "height": 232.9, "jitter": 0.148},
      {"genotype": "sW22_Mo17_BC2p", "height": 225.7, "jitter": 0.024},
      {"genotype": "sW22_Mo17_BC2p", "height": 224.9, "jitter": 0.119},
      {"genotype": "sW22_Mo17_BC2p", "height": 223.9, "jitter": 0.119},
      {"genotype": "sW22_Mo17_BC2p", "height": 222.0, "jitter": -0.193},
      {"genotype": "sW22_Mo17_BC2p", "height": 218.2, "jitter": -0.048},
      {"genotype": "sW22_Mo17_BC2p", "height": 219.1, "jitter": 0.081},
      {"genotype": "sW22_Mo17_BC2p", "height": 217.0, "jitter": 0.124},
      {"genotype": "sW22_Mo17_BC2p", "height": 212.0, "jitter": 0.119},
      {"genotype": "sW22_Mo17_BC2p", "height": 208.1, "jitter": 0.01},
      {"genotype": "sW22_Mo17_BC2p", "height": 203.1, "jitter": -0.06},
      {"genotype": "sW22_Mo17_BC3m", "height": 244.9, "jitter": -0.105},
      {"genotype": "sW22_Mo17_BC3m", "height": 240.9, "jitter": -0.076},
      {"genotype": "sW22_Mo17_BC3m", "height": 240.1, "jitter": 0.014},
      {"genotype": "sW22_Mo17_BC3m", "height": 236.9, "jitter": -0.183},
      {"genotype": "sW22_Mo17_BC3m", "height": 237.1, "jitter": -0.107},
      {"genotype": "sW22_Mo17_BC3m", "height": 235.0, "jitter": -0.005},
      {"genotype": "sW22_Mo17_BC3m", "height": 230.3, "jitter": -0.1},
      {"genotype": "sW22_Mo17_BC3m", "height": 228.1, "jitter": -0.112},
      {"genotype": "sW22_Mo17_BC3m", "height": 227.5, "jitter": 0.007},
      {"genotype": "sW22_Mo17_BC3m", "height": 226.2, "jitter": 0.133},
      {"genotype": "sW22_Mo17_BC3m", "height": 224.1, "jitter": -0.017},
      {"genotype": "sW22_Mo17_BC3m", "height": 220.0, "jitter": -0.219},
      {"genotype": "sW22_Mo17_BC3m", "height": 218.2, "jitter": -0.195},
      {"genotype": "sW22_Mo17_BC3m", "height": 217.0, "jitter": -0.148},
      {"genotype": "sW22_Mo17_BC3m", "height": 218.0, "jitter": 0.055},
      {"genotype": "sW22_Mo17_BC3m", "height": 213.0, "jitter": -0.176},
      {"genotype": "sW22_Mo17_BC3m", "height": 212.2, "jitter": 0.026},
      {"genotype": "sW22_Mo17_BC3m", "height": 211.1, "jitter": 0.114},
      {"genotype": "sW22_Mo17_BC3m", "height": 207.0, "jitter": 0.043},
      {"genotype": "sW22_Mo17_BC3m", "height": 204.9, "jitter": -0.021},
      {"genotype": "sW22_Mo17_BC3p", "height": 236.0, "jitter": 0.029},
      {"genotype": "sW22_Mo17_BC3p", "height": 232.9, "jitter": 0.083},
      {"genotype": "sW22_Mo17_BC3p", "height": 228.4, "jitter": -0.048},
      {"genotype": "sW22_Mo17_BC3p", "height": 226.8, "jitter": -0.048},
      {"genotype": "sW22_Mo17_BC3p", "height": 225.9, "jitter": -0.19},
      {"genotype": "sW22_Mo17_BC3p", "height": 226.8, "jitter": 0.198},
      {"genotype": "sW22_Mo17_BC3p", "height": 220.0, "jitter": -0.202},
      {"genotype": "sW22_Mo17_BC3p", "height": 220.0, "jitter": -0.126},
      {"genotype": "sW22_Mo17_BC3p", "height": 217.2, "jitter": -0.083},
      {"genotype": "sW22_Mo17_BC3p", "height": 216.1, "jitter": -0.036},
      {"genotype": "sW22_Mo17_BC3p", "height": 219.1, "jitter": 0.302},
      {"genotype": "sW22_Mo17_BC3p", "height": 217.9, "jitter": 0.298},
      {"genotype": "sW22_Mo17_BC3p", "height": 215.8, "jitter": 0.243},
      {"genotype": "sW22_Mo17_BC3p", "height": 214.9, "jitter": -0.326},
      {"genotype": "sW22_Mo17_BC3p", "height": 213.0, "jitter": -0.138},
      {"genotype": "sW22_Mo17_BC3p", "height": 212.4, "jitter": 0.083},
      {"genotype": "sW22_Mo17_BC3p", "height": 206.2, "jitter": -0.048},
      {"genotype": "sW22_Mo17_BC3p", "height": 206.0, "jitter": 0.048},
      {"genotype": "sW22_Mo17_BC3p", "height": 206.8, "jitter": 0.095},
      {"genotype": "sW22_Mo17_BC3p", "height": 235.0, "jitter": 0.02},
      {"genotype": "sW22_Mo17_BC4m", "height": 252.1, "jitter": -0.195},
      {"genotype": "sW22_Mo17_BC4m", "height": 253.9, "jitter": -0.138},
      {"genotype": "sW22_Mo17_BC4m", "height": 252.0, "jitter": -0.06},
      {"genotype": "sW22_Mo17_BC4m", "height": 248.1, "jitter": -0.007},
      {"genotype": "sW22_Mo17_BC4m", "height": 247.9, "jitter": 0.25},
      {"genotype": "sW22_Mo17_BC4m", "height": 244.9, "jitter": 0.314},
      {"genotype": "sW22_Mo17_BC4m", "height": 242.8, "jitter": -0.35},
      {"genotype": "sW22_Mo17_BC4m", "height": 242.8, "jitter": -0.124},
      {"genotype": "sW22_Mo17_BC4m", "height": 241.9, "jitter": -0.052},
      {"genotype": "sW22_Mo17_BC4m", "height": 243.3, "jitter": 0.119},
      {"genotype": "sW22_Mo17_BC4m", "height": 240.9, "jitter": 0.136},
      {"genotype": "sW22_Mo17_BC4m", "height": 241.2, "jitter": 0.374},
      {"genotype": "sW22_Mo17_BC4m", "height": 239.0, "jitter": 0.06},
      {"genotype": "sW22_Mo17_BC4m", "height": 240.3, "jitter": 0.079},
      {"genotype": "sW22_Mo17_BC4m", "height": 237.7, "jitter": 0.274},
      {"genotype": "sW22_Mo17_BC4m", "height": 232.2, "jitter": 0.221},
      {"genotype": "sW22_Mo17_BC4m", "height": 231.8, "jitter": 0.012},
      {"genotype": "sW22_Mo17_BC4m", "height": 230.8, "jitter": 0.064},
      {"genotype": "sW22_Mo17_BC4m", "height": 230.0, "jitter": -0.171},
      {"genotype": "sW22_Mo17_BC4m", "height": 227.0, "jitter": 0.036},
      {"genotype": "sW22_Mo17_BC4p", "height": 222.0, "jitter": -0.002},
      {"genotype": "sW22_Mo17_BC4p", "height": 214.0, "jitter": 0.095},
      {"genotype": "sW22_Mo17_BC4p", "height": 212.4, "jitter": 0.04},
      {"genotype": "sW22_Mo17_BC4p", "height": 209.2, "jitter": -0.014},
      {"genotype": "sW22_Mo17_BC4p", "height": 205.1, "jitter": -0.06},
      {"genotype": "sW22_Mo17_BC4p", "height": 197.8, "jitter": -0.121},
      {"genotype": "sW22_Mo17_BC4p", "height": 197.2, "jitter": -0.019},
      {"genotype": "sW22_Mo17_BC4p", "height": 198.9, "jitter": 0.093},
      {"genotype": "sW22_Mo17_BC4p", "height": 193.3, "jitter": -0.179},
      {"genotype": "sW22_Mo17_BC4p", "height": 192.6, "jitter": -0.098},
      {"genotype": "sW22_Mo17_BC4p", "height": 190.5, "jitter": -0.11},
      {"genotype": "sW22_Mo17_BC4p", "height": 188.7, "jitter": -0.05},
      {"genotype": "sW22_Mo17_BC4p", "height": 190.7, "jitter": 0.112},
      {"genotype": "sW22_Mo17_BC4p", "height": 184.8, "jitter": -0.11},
      {"genotype": "sW22_Mo17_BC4p", "height": 182.7, "jitter": -0.079},
      {"genotype": "sW22_Mo17_BC4p", "height": 181.6, "jitter": -0.155},
      {"genotype": "sW22_Mo17_BC4p", "height": 181.6, "jitter": 0.136},
      {"genotype": "sW22_Mo17_BC4p", "height": 170.7, "jitter": 0.0},
      {"genotype": "sW22_Mo17_BC4p", "height": 138.9, "jitter": -0.007},
      {"genotype": "sW22_Mo17_BC4p", "height": 216.0, "jitter": 0.09}
    ],
    "labels1": [
      {"genotype": "Mo17", "n_label": "N = 150", "sig": ""},
      {"genotype": "sW22_Mo17_BC1m", "n_label": "N = 20", "sig": "ns"},
      {"genotype": "sW22_Mo17_BC1p", "n_label": "N = 20", "sig": "ns"},
      {"genotype": "sW22_Mo17_BC2m", "n_label": "N = 20", "sig": "****"},
      {"genotype": "sW22_Mo17_BC2p", "n_label": "N = 20", "sig": "ns"},
      {"genotype": "sW22_Mo17_BC3m", "n_label": "N = 20", "sig": "ns"},
      {"genotype": "sW22_Mo17_BC3p", "n_label": "N = 20", "sig": "****"},
      {"genotype": "sW22_Mo17_BC4m", "n_label": "N = 20", "sig": "**"},
      {"genotype": "sW22_Mo17_BC4p", "n_label": "N = 20", "sig": "****"}
    ],
    "labels2": [
      {"genotype": "Mo17", "n_label": "N = 40", "sig": ""},
      {"genotype": "sW22_Mo17_BC1m", "n_label": "N = 20", "sig": "ns"},
      {"genotype": "sW22_Mo17_BC1p", "n_label": "N = 20", "sig": "ns"},
      {"genotype": "sW22_Mo17_BC2m", "n_label": "N = 20", "sig": "****"},
      {"genotype": "sW22_Mo17_BC2p", "n_label": "N = 20", "sig": "ns"},
      {"genotype": "sW22_Mo17_BC3m", "n_label": "N = 20", "sig": "ns"},
      {"genotype": "sW22_Mo17_BC3p", "n_label": "N = 20", "sig": "***"},
      {"genotype": "sW22_Mo17_BC4m", "n_label": "N = 20", "sig": "****"},
      {"genotype": "sW22_Mo17_BC4p", "n_label": "N = 20", "sig": "****"}
    ],
    "minor": [
      {"minor": 125}, {"minor": 175}, {"minor": 225}, {"minor": 275}, {"minor": 325}
    ]
  },
  "vconcat": [
    {
      "width": 1298,
      "height": 690,
      "title": {"text": "Distribution of Plant Height Across 2020 sW22_Mo17 Backcross Genotypes in Field 1", "anchor": "start", "frame": "group", "fontSize": 43, "fontWeight": "bold", "color": "black", "offset": 12, "limit": 2000},
      "layer": [
        {
          "data": {"name": "minor"},
          "mark": {"type": "rule", "color": "white", "strokeWidth": 1.3},
          "encoding": {
            "y": {"field": "minor", "type": "quantitative", "title": "Plant Height",
              "scale": {"domain": [115, 335], "nice": false, "zero": false},
              "axis": {"values": [150, 200, 250, 300], "labelFontSize": 31, "labelColor": "#4d4d4d", "titleFontSize": 37, "titleFontWeight": "bold", "titleColor": "black", "titlePadding": 48, "tickColor": "#333333", "tickSize": 7, "tickWidth": 2, "domain": false, "grid": true, "gridColor": "white", "gridWidth": 2.5, "labelPadding": 4}}
          }
        },
        {
          "data": {"name": "field1"},
          "mark": {"type": "circle", "size": 110, "opacity": 1},
          "encoding": {
            "x": {"field": "genotype", "type": "nominal", "title": "Genotype",
              "scale": {"type": "band", "domain": ["Mo17", "sW22_Mo17_BC1m", "sW22_Mo17_BC1p", "sW22_Mo17_BC2m", "sW22_Mo17_BC2p", "sW22_Mo17_BC3m", "sW22_Mo17_BC3p", "sW22_Mo17_BC4m", "sW22_Mo17_BC4p"], "paddingInner": 0, "paddingOuter": 0.1},
              "axis": {"labelAngle": -90, "labelFontSize": 31, "labelLimit": 500, "labelColor": "#4d4d4d", "titleFontSize": 37, "titleFontWeight": "bold", "titleColor": "black", "titlePadding": 143, "tickColor": "#333333", "tickSize": 7, "tickWidth": 2, "domain": false, "grid": true, "gridColor": "white", "gridWidth": 2.5, "bandPosition": 0.5, "labelPadding": 4}},
            "xOffset": {"field": "jitter", "type": "quantitative", "scale": {"domain": [-0.5, 0.5], "range": [0, 141.1]}},
            "y": {"field": "height", "type": "quantitative", "title": "Plant Height"},
            "color": {"field": "genotype", "type": "nominal",
              "scale": {"domain": ["Mo17", "sW22_Mo17_BC1m", "sW22_Mo17_BC1p", "sW22_Mo17_BC2m", "sW22_Mo17_BC2p", "sW22_Mo17_BC3m", "sW22_Mo17_BC3p", "sW22_Mo17_BC4m", "sW22_Mo17_BC4p"], "range": ["#a3d4ec", "#88c1de", "#74afd2", "#5f9fc5", "#4a8bb6", "#3776a4", "#266293", "#1b4d7a", "#113a60"]},
              "legend": {"orient": "none", "legendX": 1339, "legendY": 111, "title": "Segregating Genotype", "titleFontSize": 37, "titleFontWeight": "bold", "titleColor": "black", "titleLimit": 600, "labelFontSize": 31, "labelLimit": 500, "labelColor": "black", "symbolType": "circle", "symbolSize": 113, "rowPadding": 15, "labelOffset": 33, "symbolOffset": 17, "titlePadding": 18, "padding": 0}}
          }
        },
        {
          "data": {"name": "field1"},
          "mark": {"type": "errorbar", "extent": "stdev", "color": "black", "ticks": {"size": 28, "thickness": 3, "color": "black"}, "rule": {"strokeWidth": 3}},
          "encoding": {
            "x": {"field": "genotype", "type": "nominal", "title": "Genotype",
              "scale": {"type": "band", "domain": ["Mo17", "sW22_Mo17_BC1m", "sW22_Mo17_BC1p", "sW22_Mo17_BC2m", "sW22_Mo17_BC2p", "sW22_Mo17_BC3m", "sW22_Mo17_BC3p", "sW22_Mo17_BC4m", "sW22_Mo17_BC4p"], "paddingInner": 0, "paddingOuter": 0.1}},
            "y": {"field": "height", "type": "quantitative", "title": "Plant Height"}
          }
        },
        {
          "data": {"name": "field1"},
          "mark": {"type": "circle", "size": 150, "color": "black", "opacity": 1},
          "encoding": {
            "x": {"field": "genotype", "type": "nominal", "title": "Genotype",
              "scale": {"type": "band", "domain": ["Mo17", "sW22_Mo17_BC1m", "sW22_Mo17_BC1p", "sW22_Mo17_BC2m", "sW22_Mo17_BC2p", "sW22_Mo17_BC3m", "sW22_Mo17_BC3p", "sW22_Mo17_BC4m", "sW22_Mo17_BC4p"], "paddingInner": 0, "paddingOuter": 0.1}},
            "y": {"aggregate": "mean", "field": "height", "type": "quantitative", "title": "Plant Height"}
          }
        },
        {
          "data": {"name": "labels1"},
          "mark": {"type": "text", "fontSize": 22, "color": "black", "baseline": "middle"},
          "encoding": {
            "x": {"field": "genotype", "type": "nominal", "title": "Genotype",
              "scale": {"type": "band", "domain": ["Mo17", "sW22_Mo17_BC1m", "sW22_Mo17_BC1p", "sW22_Mo17_BC2m", "sW22_Mo17_BC2p", "sW22_Mo17_BC3m", "sW22_Mo17_BC3p", "sW22_Mo17_BC4m", "sW22_Mo17_BC4p"], "paddingInner": 0, "paddingOuter": 0.1}},
            "y": {"datum": 316.5, "type": "quantitative"},
            "text": {"field": "n_label"}
          }
        },
        {
          "data": {"name": "labels1"},
          "mark": {"type": "text", "fontSize": 22, "color": "black", "baseline": "middle"},
          "encoding": {
            "x": {"field": "genotype", "type": "nominal", "title": "Genotype",
              "scale": {"type": "band", "domain": ["Mo17", "sW22_Mo17_BC1m", "sW22_Mo17_BC1p", "sW22_Mo17_BC2m", "sW22_Mo17_BC2p", "sW22_Mo17_BC3m", "sW22_Mo17_BC3p", "sW22_Mo17_BC4m", "sW22_Mo17_BC4p"], "paddingInner": 0, "paddingOuter": 0.1}},
            "y": {"datum": 286, "type": "quantitative"},
            "text": {"field": "sig"}
          }
        }
      ]
    },
    {
      "width": 1298,
      "height": 690,
      "title": {"text": "Distribution of Plant Height Across 2020 sW22_Mo17 Backcross Genotypes in Field 2", "anchor": "start", "frame": "group", "fontSize": 43, "fontWeight": "bold", "color": "black", "offset": 12, "limit": 2000},
      "layer": [
        {
          "data": {"name": "minor"},
          "mark": {"type": "rule", "color": "white", "strokeWidth": 1.3},
          "encoding": {
            "y": {"field": "minor", "type": "quantitative", "title": "Plant Height",
              "scale": {"domain": [115, 335], "nice": false, "zero": false},
              "axis": {"values": [150, 200, 250, 300], "labelFontSize": 31, "labelColor": "#4d4d4d", "titleFontSize": 37, "titleFontWeight": "bold", "titleColor": "black", "titlePadding": 48, "tickColor": "#333333", "tickSize": 7, "tickWidth": 2, "domain": false, "grid": true, "gridColor": "white", "gridWidth": 2.5, "labelPadding": 4}}
          }
        },
        {
          "data": {"name": "field2"},
          "mark": {"type": "circle", "size": 110, "opacity": 1},
          "encoding": {
            "x": {"field": "genotype", "type": "nominal", "title": "Genotype",
              "scale": {"type": "band", "domain": ["Mo17", "sW22_Mo17_BC1m", "sW22_Mo17_BC1p", "sW22_Mo17_BC2m", "sW22_Mo17_BC2p", "sW22_Mo17_BC3m", "sW22_Mo17_BC3p", "sW22_Mo17_BC4m", "sW22_Mo17_BC4p"], "paddingInner": 0, "paddingOuter": 0.1},
              "axis": {"labelAngle": -90, "labelFontSize": 31, "labelLimit": 500, "labelColor": "#4d4d4d", "titleFontSize": 37, "titleFontWeight": "bold", "titleColor": "black", "titlePadding": 143, "tickColor": "#333333", "tickSize": 7, "tickWidth": 2, "domain": false, "grid": true, "gridColor": "white", "gridWidth": 2.5, "bandPosition": 0.5, "labelPadding": 4}},
            "xOffset": {"field": "jitter", "type": "quantitative", "scale": {"domain": [-0.5, 0.5], "range": [0, 141.1]}},
            "y": {"field": "height", "type": "quantitative", "title": "Plant Height"},
            "color": {"field": "genotype", "type": "nominal",
              "scale": {"domain": ["Mo17", "sW22_Mo17_BC1m", "sW22_Mo17_BC1p", "sW22_Mo17_BC2m", "sW22_Mo17_BC2p", "sW22_Mo17_BC3m", "sW22_Mo17_BC3p", "sW22_Mo17_BC4m", "sW22_Mo17_BC4p"], "range": ["#a3d4ec", "#88c1de", "#74afd2", "#5f9fc5", "#4a8bb6", "#3776a4", "#266293", "#1b4d7a", "#113a60"]},
              "legend": {"orient": "none", "legendX": 1339, "legendY": 111, "title": "Segregating Genotype", "titleFontSize": 37, "titleFontWeight": "bold", "titleColor": "black", "titleLimit": 600, "labelFontSize": 31, "labelLimit": 500, "labelColor": "black", "symbolType": "circle", "symbolSize": 113, "rowPadding": 15, "labelOffset": 33, "symbolOffset": 17, "titlePadding": 18, "padding": 0}}
          }
        },
        {
          "data": {"name": "field2"},
          "mark": {"type": "errorbar", "extent": "stdev", "color": "black", "ticks": {"size": 28, "thickness": 3, "color": "black"}, "rule": {"strokeWidth": 3}},
          "encoding": {
            "x": {"field": "genotype", "type": "nominal", "title": "Genotype",
              "scale": {"type": "band", "domain": ["Mo17", "sW22_Mo17_BC1m", "sW22_Mo17_BC1p", "sW22_Mo17_BC2m", "sW22_Mo17_BC2p", "sW22_Mo17_BC3m", "sW22_Mo17_BC3p", "sW22_Mo17_BC4m", "sW22_Mo17_BC4p"], "paddingInner": 0, "paddingOuter": 0.1}},
            "y": {"field": "height", "type": "quantitative", "title": "Plant Height"}
          }
        },
        {
          "data": {"name": "field2"},
          "mark": {"type": "circle", "size": 150, "color": "black", "opacity": 1},
          "encoding": {
            "x": {"field": "genotype", "type": "nominal", "title": "Genotype",
              "scale": {"type": "band", "domain": ["Mo17", "sW22_Mo17_BC1m", "sW22_Mo17_BC1p", "sW22_Mo17_BC2m", "sW22_Mo17_BC2p", "sW22_Mo17_BC3m", "sW22_Mo17_BC3p", "sW22_Mo17_BC4m", "sW22_Mo17_BC4p"], "paddingInner": 0, "paddingOuter": 0.1}},
            "y": {"aggregate": "mean", "field": "height", "type": "quantitative", "title": "Plant Height"}
          }
        },
        {
          "data": {"name": "labels2"},
          "mark": {"type": "text", "fontSize": 22, "color": "black", "baseline": "middle"},
          "encoding": {
            "x": {"field": "genotype", "type": "nominal", "title": "Genotype",
              "scale": {"type": "band", "domain": ["Mo17", "sW22_Mo17_BC1m", "sW22_Mo17_BC1p", "sW22_Mo17_BC2m", "sW22_Mo17_BC2p", "sW22_Mo17_BC3m", "sW22_Mo17_BC3p", "sW22_Mo17_BC4m", "sW22_Mo17_BC4p"], "paddingInner": 0, "paddingOuter": 0.1}},
            "y": {"datum": 316.5, "type": "quantitative"},
            "text": {"field": "n_label"}
          }
        },
        {
          "data": {"name": "labels2"},
          "mark": {"type": "text", "fontSize": 22, "color": "black", "baseline": "middle"},
          "encoding": {
            "x": {"field": "genotype", "type": "nominal", "title": "Genotype",
              "scale": {"type": "band", "domain": ["Mo17", "sW22_Mo17_BC1m", "sW22_Mo17_BC1p", "sW22_Mo17_BC2m", "sW22_Mo17_BC2p", "sW22_Mo17_BC3m", "sW22_Mo17_BC3p", "sW22_Mo17_BC4m", "sW22_Mo17_BC4p"], "paddingInner": 0, "paddingOuter": 0.1}},
            "y": {"datum": 286, "type": "quantitative"},
            "text": {"field": "sig"}
          }
        }
      ]
    }
  ],
  "resolve": {"scale": {"color": "independent"}, "legend": {"color": "independent"}}
}
